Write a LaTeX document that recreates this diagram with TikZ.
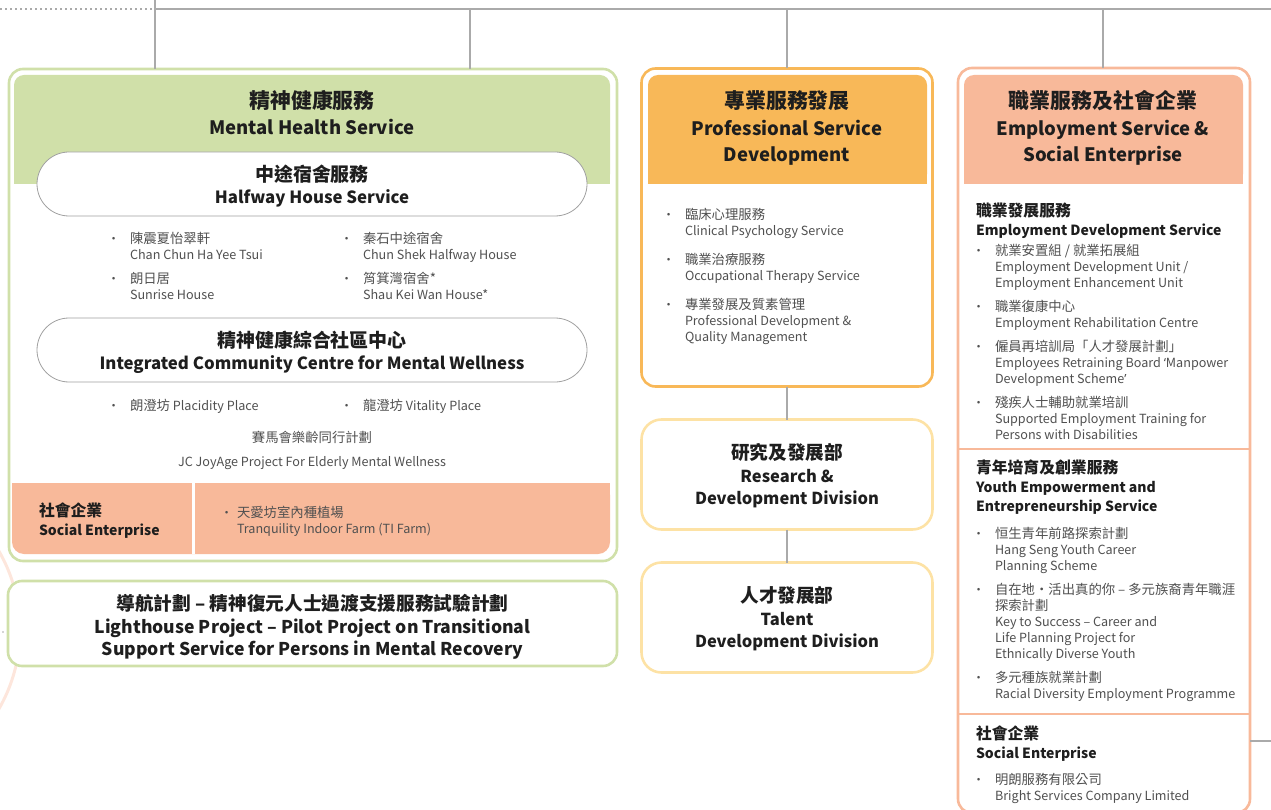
\documentclass[tikz,border=0pt]{standalone}
\usepackage{fontspec}
\setmainfont{Noto Sans CJK TC}
\newfontfamily\zhfont[Scale=1.13]{Noto Sans CJK TC}
\newfontfamily\zhitem[Scale=1.06]{Noto Sans CJK TC}
\newfontfamily\quotefont{Noto Sans}
\usetikzlibrary{backgrounds,positioning}

\definecolor{mhgreen}{HTML}{D0E0A9}
\definecolor{psorange}{HTML}{F8B858}
\definecolor{rdyellow}{HTML}{FDE2A5}
\definecolor{essalmon}{HTML}{F8B99A}
\definecolor{linkgray}{HTML}{AAAAAA}
\definecolor{pillgray}{HTML}{A0A0A0}
\definecolor{ink}{HTML}{1E1E1E}
\definecolor{soft}{HTML}{505050}
\definecolor{arcpink}{HTML}{FDE6DC}

\newcommand\bul{\leavevmode\llap{·\hspace{10pt}}}
\newcommand\zh[1]{{\zhfont #1}}
\newcommand\zhi[1]{{\zhitem #1}}

\begin{document}
\begin{tikzpicture}[x=1pt,y=-1pt,
  every node/.style={inner sep=0pt, outer sep=0pt, text=ink},
  panel/.style={draw, line width=2.6pt, fill=white, rounded corners=14pt},
  head/.style={rounded corners=10pt, minimum height=109pt},
  pill/.style={draw=pillgray, line width=0.8pt, fill=white, rounded corners=32pt,
    minimum width=550pt, minimum height=64pt},
  pilltext/.style={align=center, font=\fontsize{16.8}{22}\selectfont\bfseries},
  title/.style={align=center, font=\fontsize{18.5}{26.5}\selectfont\bfseries},
  items/.style={align=left, anchor=north west, text=soft,
    font=\fontsize{12.6}{16}\selectfont},
  subhead/.style={align=left, anchor=north west,
    font=\fontsize{14}{19}\selectfont\bfseries},
  division/.style={draw=rdyellow, line width=2.6pt, rounded corners=20pt,
    minimum width=291pt, minimum height=110pt},
  divtext/.style={align=center, font=\fontsize{16.5}{22.5}\selectfont\bfseries},
  link/.style={draw=linkgray, line width=1.1pt}
]
\useasboundingbox (0,0) rectangle (1271,810);

% faint ring behind the left column
\begin{scope}[on background layer]
  \draw[arcpink, line width=3pt] (-138,630) circle (158pt);
\end{scope}
\fill[linkgray] (3,632) circle (0.9pt);

% bus line on top
\coordinate (busw) at (0,9);
\coordinate (busl) at (155,9);
\coordinate (buse) at (1271,9);
\coordinate (mhtop) at (155,0);
\coordinate (mhjoin) at (470,9);
\coordinate (psjoin) at (787,9);
\coordinate (esjoin) at (1103,9);
\draw[link, dash pattern=on 1.5pt off 3.5pt] (busw) -- (busl);
\draw[link] (busl) -- (buse);

%%% Mental Health Service
\node[panel, draw=mhgreen, minimum width=608pt, minimum height=492pt] (mh) at (313,315) {};
\node[head, fill=mhgreen, minimum width=596pt] (mhhead) at (312,129.5) {};
\fill[mhgreen] (mhhead.west) rectangle (mhhead.south east);
\node[title] (mhtitle) at (312,112.5) {\zh{精神健康服務}\\Mental Health Service};

\node[pill] (hh) at (312,184) {};
\node[pilltext, yshift=-2pt] (hhtext) at (hh.center) {\zh{中途宿舍服務}\\Halfway House Service};
\node[items] (hhleft) at (130,232) {\bul \zhi{陳震夏怡翠軒}\\Chan Chun Ha Yee Tsui\\[8pt]\bul \zhi{朗日居}\\Sunrise House};
\node[items] (hhright) at (363,232) {\bul \zhi{秦石中途宿舍}\\Chun Shek Halfway House\\[8pt]\bul \zhi{筲箕灣宿舍*}\\Shau Kei Wan House*};

\node[pill] (ic) at (312,350) {};
\node[pilltext, yshift=-2.5pt] (ictext) at (ic.center) {\zh{精神健康綜合社區中心}\\Integrated Community Centre for Mental Wellness};
\node[items] (icleft) at (130,399) {\bul \zhi{朗澄坊} Placidity Place};
\node[items] (icright) at (363,399) {\bul \zhi{龍澄坊} Vitality Place};
\node[items, anchor=north, align=center] (joyage) at (312,431)
  {\zhi{賽馬會樂齡同行計劃}\\[8pt]JC JoyAge Project For Elderly Mental Wellness};

% social enterprise strip
\node[fill=essalmon, rounded corners=12pt, minimum width=598pt, minimum height=71pt] (sebar) at (311,518.5) {};
\fill[essalmon] (sebar.north west) rectangle (sebar.east);
\fill[white] (192,483) rectangle (195,554);
\node[subhead] (selabel) at (39,503) {\zh{社會企業}\\Social Enterprise};
\node[items] (farm) at (237,506) {\leavevmode\llap{·\hspace{4pt}}\zhi{天愛坊室內種植場}\\Tranquility Indoor Farm (TI Farm)};

\draw[link] (mhtop) -- (mhtop |- mh.north);
\draw[link] (mhjoin) -- (mhjoin |- mh.north);

%%% Lighthouse Project
\node[panel, draw=mhgreen, minimum width=609pt, minimum height=85pt] (lh) at (312.5,623.5) {};
\node[align=center, yshift=-3.5pt, font=\fontsize{17.6}{22.5}\selectfont\bfseries] (lhtext) at (lh.center)
  {\zhi{導航計劃 – 精神復元人士過渡支援服務試驗計劃}\\
   Lighthouse Project – Pilot Project on Transitional\\
   Support Service for Persons in Mental Recovery};

%%% Professional Service Development
\node[panel, draw=psorange, minimum width=291pt, minimum height=318pt] (ps) at (787,227.5) {};
\node[head, fill=psorange, minimum width=279pt] (pshead) at (787.5,129.5) {};
\fill[psorange] (pshead.west) rectangle (pshead.south east);
\node[title] (pstitle) at (787,128) {\zh{專業服務發展}\\Professional Service\\Development};
\node[items] (psitems) at (685,208)
  {\bul \zhi{臨床心理服務}\\Clinical Psychology Service\\[13pt]
   \bul \zhi{職業治療服務}\\Occupational Therapy Service\\[13pt]
   \bul \zhi{專業發展及質素管理}\\Professional Development \&\\Quality Management};

\node[division, below=33pt of ps] (rd) {};
\node[divtext, yshift=-1.5pt] (rdtext) at (rd.center) {\zh{研究及發展部}\\Research \&\\Development Division};
\node[division, below=33pt of rd] (td) {};
\node[divtext, yshift=-1.5pt] (tdtext) at (td.center) {\zh{人才發展部}\\Talent\\Development Division};

\draw[link] (psjoin) -- (psjoin |- ps.north);
\draw[link] (ps.south) -- (rd.north);
\draw[link] (rd.south) -- (td.north);

%%% Employment Service & Social Enterprise
\node[panel, draw=essalmon, minimum width=292pt, minimum height=745pt] (es) at (1104,440.5) {};
\node[head, fill=essalmon, minimum width=279pt] (eshead) at (1103.5,129.5) {};
\fill[essalmon] (eshead.west) rectangle (eshead.south east);
\node[title] (estitle) at (1103,128) {\zh{職業服務及社會企業}\\Employment Service \&\\Social Enterprise};

\coordinate (cut1) at (1104,449);
\coordinate (cut2) at (1104,714);
\draw[essalmon, line width=2pt] (cut1 -| es.west) -- (cut1 -| es.east);
\draw[essalmon, line width=2pt] (cut2 -| es.west) -- (cut2 -| es.east);

\node[subhead] (eds) at (976,202.5) {\zh{職業發展服務}\\Employment Development Service};
\node[items] (edsitems) at (995,244)
  {\bul \zhi{就業安置組 / 就業拓展組}\\Employment Development Unit /\\Employment Enhancement Unit\\[8pt]
   \bul \zhi{職業復康中心}\\Employment Rehabilitation Centre\\[8pt]
   \bul \zhi{僱員再培訓局「人才發展計劃」}\\Employees Retraining Board {\quotefont ‘}Manpower\\Development Scheme{\quotefont ’}\\[8pt]
   \bul \zhi{殘疾人士輔助就業培訓}\\Supported Employment Training for\\Persons with Disabilities};

\node[subhead] (yes) at (976,459.5) {\zh{青年培育及創業服務}\\Youth Empowerment and\\Entrepreneurship Service};
\node[items] (yesitems) at (995,527)
  {\bul \zhi{恒生青年前路探索計劃}\\Hang Seng Youth Career\\Planning Scheme\\[8pt]
   \bul \zhi{自在地・活出真的你 – 多元族裔青年職涯}\\\zhi{探索計劃}\\Key to Success – Career and\\Life Planning Project for\\Ethnically Diverse Youth\\[8pt]
   \bul \zhi{多元種族就業計劃}\\Racial Diversity Employment Programme};

\node[subhead] (ses) at (976,725.5) {\zh{社會企業}\\Social Enterprise};
\node[items] (sesitems) at (995,773) {\bul \zhi{明朗服務有限公司}\\Bright Services Company Limited};

\coordinate (stub) at (1271,741);
\draw[link] (esjoin) -- (esjoin |- es.north);
\draw[link] (stub -| es.east) -- (stub);
\end{tikzpicture}
\end{document}
